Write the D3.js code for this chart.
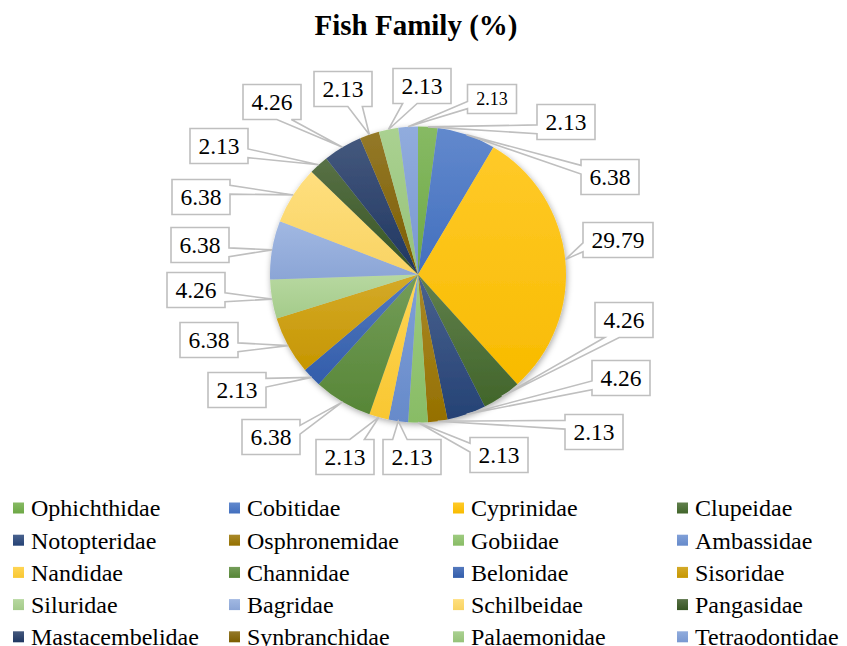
<!DOCTYPE html>
<html>
<head>
<meta charset="utf-8">
<script src="https://cdn.jsdelivr.net/npm/d3@7"></script>
<style>
  body { margin: 0; background: #fff; }
</style>
</head>
<body>
<div id="chart"></div>
<script>
var families = ["Ophichthidae", "Cobitidae", "Cyprinidae", "Clupeidae", "Notopteridae",
  "Osphronemidae", "Gobiidae", "Ambassidae", "Nandidae", "Channidae", "Belonidae",
  "Sisoridae", "Siluridae", "Bagridae", "Schilbeidae", "Pangasidae", "Mastacembelidae",
  "Synbranchidae", "Palaemonidae", "Tetraodontidae"];
var shares = [2.13, 6.38, 29.79, 4.26, 4.26, 2.13, 2.13, 2.13, 2.13, 6.38, 2.13,
  6.38, 4.26, 6.38, 6.38, 2.13, 4.26, 2.13, 2.13, 2.13];
var colors = ["#70AD47", "#4472C4", "#FFC000", "#43682B", "#264478", "#997300",
  "#8CC168", "#698ED0", "#FFCD33", "#5A8A39", "#3360B0", "#CC9A00",
  "#A9D18E", "#8FAADC", "#FFD966", "#385623", "#203864", "#806000",
  "#9AC87C", "#7C9CD7"];

// callout boxes were hand placed in the original, centre of each box
var calloutX = [566, 610, 618, 624, 621, 594, 499, 412, 345, 271, 237, 209, 196, 200, 201, 219, 272, 343, 422, 492];
var calloutY = [122, 177, 240, 320, 378, 432, 455, 457, 457, 437, 390, 340, 290, 245, 197, 146, 102, 89, 86, 99];

var serif = "'Liberation Serif', 'Times New Roman', Times, 'DejaVu Serif', serif";

var svgWidth = 847;
var svgHeight = 646;
var cx = 418, cy = 274.5, radius = 148;

var svg = d3.select("#chart")
  .append("svg")
  .attr("width", svgWidth)
  .attr("height", svgHeight)
  .style("font-family", serif);

var defs = svg.append("defs");

var shadow = defs.append("filter")
  .attr("id", "shadow")
  .attr("x", "-20%").attr("y", "-20%")
  .attr("width", "140%").attr("height", "140%");
shadow.append("feDropShadow")
  .attr("dx", 1).attr("dy", 2)
  .attr("stdDeviation", 3)
  .attr("flood-color", "#000")
  .attr("flood-opacity", 0.35);

colors.forEach(function(c, i) {
  var g = defs.append("linearGradient")
    .attr("id", "grad" + i)
    .attr("x1", 0).attr("y1", 0).attr("x2", 0).attr("y2", 1);
  g.append("stop").attr("offset", "0%").attr("stop-color", d3.interpolateRgb(c, "#fff")(0.16));
  g.append("stop").attr("offset", "100%").attr("stop-color", d3.rgb(c).darker(0.08));
});

// title
svg.append("text")
  .attr("x", 416)
  .attr("y", 35)
  .attr("text-anchor", "middle")
  .style("font-family", serif)
  .style("font-size", "29px")
  .style("font-weight", "bold")
  .text("Fish Family (%)");

// pie
var pie = d3.pie().sort(null).value(d => d);
var arcs = pie(shares);
var arc = d3.arc().innerRadius(0).outerRadius(radius);

var pieGroup = svg.append("g")
  .attr("transform", `translate(${cx}, ${cy})`)
  .attr("filter", "url(#shadow)");

pieGroup.selectAll("path.slice")
  .data(arcs)
  .enter()
  .append("path")
  .classed("slice", true)
  .attr("d", arc)
  .attr("fill", (d, i) => "url(#grad" + i + ")");

// callouts (box with a wedge pointing at the slice)
function calloutPath(bx, by, w, h, tx, ty) {
  var x0 = bx - w / 2, y0 = by - h / 2, x1 = bx + w / 2, y1 = by + h / 2;
  var dx = (tx - bx) / w, dy = (ty - by) / h;
  var pts, f;
  if (Math.abs(dx) >= Math.abs(dy)) {
    f = dy < 0 ? [2 / 12, 5 / 12] : [7 / 12, 10 / 12];
    var ya = y0 + h * f[0], yb = y0 + h * f[1];
    if (dx < 0) {
      pts = [[x0, y0], [x1, y0], [x1, y1], [x0, y1], [x0, yb], [tx, ty], [x0, ya]];
    } else {
      pts = [[x0, y0], [x1, y0], [x1, ya], [tx, ty], [x1, yb], [x1, y1], [x0, y1]];
    }
  } else {
    f = dx < 0 ? [2 / 12, 5 / 12] : [7 / 12, 10 / 12];
    var xa = x0 + w * f[0], xb = x0 + w * f[1];
    if (dy < 0) {
      pts = [[x0, y0], [xa, y0], [tx, ty], [xb, y0], [x1, y0], [x1, y1], [x0, y1]];
    } else {
      pts = [[x0, y0], [x1, y0], [x1, y1], [xb, y1], [tx, ty], [xa, y1], [x0, y1]];
    }
  }
  return "M" + pts.join("L") + "Z";
}

var callouts = svg.append("g");

arcs.forEach(function(d, i) {
  var small = i === arcs.length - 1;
  var fontSize = small ? 18 : 23.5;
  var label = d.data.toFixed(2);
  var w = small ? 49 : (label.length > 4 ? 70 : 58);
  var h = small ? 29 : 35;
  var a = (d.startAngle + d.endAngle) / 2;
  var tx = cx + radius * Math.sin(a);
  var ty = cy - radius * Math.cos(a);

  callouts.append("path")
    .attr("d", calloutPath(calloutX[i], calloutY[i], w, h, tx, ty))
    .attr("fill", "#fff")
    .attr("stroke", "#bfbfbf")
    .attr("stroke-width", 1.6);

  callouts.append("text")
    .attr("x", calloutX[i])
    .attr("y", calloutY[i])
    .attr("dy", "0.35em")
    .attr("text-anchor", "middle")
    .style("font-family", serif)
    .style("font-size", fontSize + "px")
    .text(label);
});

// legend, 4 columns
var legendX = [13, 229, 453, 677];
var legendY0 = 508, legendStep = 32.2;

var legend = svg.append("g").selectAll("g.item")
  .data(families)
  .enter()
  .append("g")
  .classed("item", true)
  .attr("transform", (d, i) => `translate(${legendX[i % 4]}, ${legendY0 + Math.floor(i / 4) * legendStep})`);

legend.append("rect")
  .attr("x", 0)
  .attr("y", -5.5)
  .attr("width", 11)
  .attr("height", 11)
  .attr("fill", (d, i) => "url(#grad" + i + ")");

legend.append("text")
  .attr("x", 18)
  .attr("dy", "0.35em")
  .style("font-family", serif)
  .style("font-size", "24px")
  .text(d => d);
</script>
</body>
</html>
